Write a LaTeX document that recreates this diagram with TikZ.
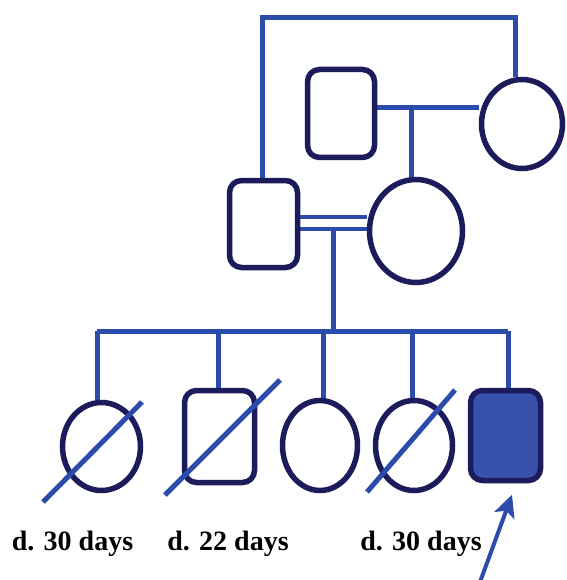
\documentclass[tikz,border=0pt]{standalone}
\usepackage{fontspec}
\setmainfont{Liberation Serif}
\usetikzlibrary{arrows.meta,backgrounds,shapes.geometric}

\definecolor{lineblue}{RGB}{44,76,172}
\definecolor{navy}{RGB}{28,27,92}
\definecolor{affected}{RGB}{56,82,172}

\tikzset{
  person/.style={draw=navy, line width=5.5pt, fill=white, inner sep=0pt},
  male/.style={person, rectangle, rounded corners=12pt},
  female/.style={person, ellipse},
  link/.style={draw=lineblue, line width=5pt},
  twin/.style={draw=lineblue, line width=4.5pt},
  slash/.style={draw=lineblue, line width=5pt},
  proband/.style={draw=lineblue, line width=4pt,
    -{Stealth[length=22pt,width=21pt,inset=5pt]}},
  label/.style={font=\bfseries\fontsize{28}{30}\selectfont, anchor=base, inner sep=0pt}
}

\begin{document}
\begin{tikzpicture}[x=1pt,y=-1pt]
\useasboundingbox (0,0) rectangle (566,580);

% grandparents
\node[male, minimum width=67pt, minimum height=88pt] (GF) at (341,113.5) {};
\node[female, minimum width=81pt, minimum height=89pt] (GM) at (522,124) {};

% parents
\node[male, minimum width=68pt, minimum height=87pt] (F) at (263.5,224) {};
\node[female, minimum width=93pt, minimum height=103pt] (M) at (416,231) {};

% children
\node[female, minimum width=78pt, minimum height=88pt] (C1) at (101.5,446.5) {};
\node[male, minimum width=70pt, minimum height=92pt] (C2) at (219.5,436.5) {};
\node[female, minimum width=75pt, minimum height=90pt] (C3) at (320,445.5) {};
\node[female, minimum width=77pt, minimum height=90pt] (C4) at (414,445.5) {};
\node[male, fill=affected, minimum width=70pt, minimum height=90pt] (C5) at (505.5,435.5) {};

% line junctions
\coordinate (topL) at (262,18);
\coordinate (topR) at (515,18);
\coordinate (mar1) at (411,108);
\coordinate (dbl1) at (333,217);
\coordinate (dbl2) at (333,229);
\coordinate (sibL) at (97,331);
\coordinate (sib2) at (218,331);
\coordinate (sibM) at (333,331);
\coordinate (sib3) at (323,331);
\coordinate (sib4) at (412,331);
\coordinate (sibR) at (508,331);
\coordinate (ptail) at (480,582);

\begin{scope}[on background layer]
  % link between father and maternal grandmother's line
  \draw[link] (F.north -| topL) -- (topL) -- (topR) -- (topR |- GM.north);
  % grandparents' marriage and descent
  \draw[link] (GF.east |- mar1) -- (GM.west |- mar1);
  \draw[link] (mar1) -- (mar1 |- M.north);
  % consanguineous marriage
  \draw[twin] (F.east |- dbl1) -- (M.west |- dbl1);
  \draw[twin] (F.east |- dbl2) -- (M.west |- dbl2);
  % sibship
  \draw[link] (dbl2) -- (sibM);
  \draw[link] (sibL) -- (sibR);
  \draw[link] (sibL) -- (sibL |- C1.north);
  \draw[link] (sib2) -- (sib2 |- C2.north);
  \draw[link] (sib3) -- (sib3 |- C3.north);
  \draw[link] (sib4) -- (sib4 |- C4.north);
  \draw[link] (sibR) -- (sibR |- C5.north);
\end{scope}

% deceased
\draw[slash] ([shift={(-58.5,55.5)}]C1.center) -- ([shift={(40.5,-44.5)}]C1.center);
\draw[slash] ([shift={(-54.5,58.5)}]C2.center) -- ([shift={(60.5,-56.5)}]C2.center);
\draw[slash] ([shift={(-47,46.5)}]C4.center) -- ([shift={(41,-55.5)}]C4.center);

% proband arrow
\draw[proband] (ptail) -- ([shift={(6.5,11.5)}]C5.south);

% ages at death
\node[label] (L1) at (72.5,550) {d. 30 days};
\node[label] (L2) at (228,550) {d. 22 days};
\node[label] (L3) at (421,550) {d. 30 days};
\end{tikzpicture}
\end{document}
